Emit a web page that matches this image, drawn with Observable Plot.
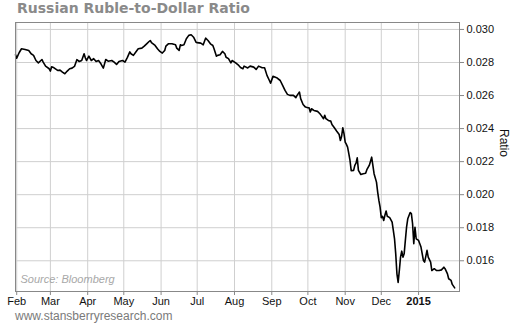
<!DOCTYPE html>
<html>
<head>
<meta charset="utf-8">
<script src="https://cdn.jsdelivr.net/npm/d3@7"></script>
<script src="https://cdn.jsdelivr.net/npm/@observablehq/plot@0.6"></script>
<style>
  html, body { margin: 0; padding: 0; background: #fff; }
  #wrap { position: relative; width: 510px; height: 325px; overflow: hidden; }
  #title { position: absolute; left: 17px; top: 0px; font: bold 14px "DejaVu Sans", Verdana, sans-serif; line-height: 16px; color: #8a8a8a; white-space: nowrap; }
  #chart { position: absolute; left: 0; top: 18px; }
  #footer { position: absolute; left: 15px; top: 309px; font: 12px "Liberation Sans", Arial, sans-serif; color: #7a7a7a; white-space: nowrap; }
</style>
</head>
<body>
<div id="wrap">
  <div id="title">Russian Ruble-to-Dollar Ratio</div>
  <div id="chart"></div>
  <div id="footer">www.stansberryresearch.com</div>
</div>
<script>
const dates = [
"2014-01-31","2014-02-01","2014-02-03","2014-02-05","2014-02-08","2014-02-11","2014-02-13","2014-02-15","2014-02-17","2014-02-19",
"2014-02-22","2014-02-23","2014-02-25","2014-02-28","2014-03-01","2014-03-02","2014-03-04","2014-03-07","2014-03-09","2014-03-11",
"2014-03-13","2014-03-15","2014-03-17","2014-03-19","2014-03-21","2014-03-23","2014-03-25","2014-03-27","2014-03-29","2014-03-30",
"2014-03-31","2014-04-02","2014-04-04","2014-04-06","2014-04-08","2014-04-10","2014-04-12","2014-04-14","2014-04-16","2014-04-18",
"2014-04-21","2014-04-23","2014-04-25","2014-04-27","2014-04-30","2014-05-02","2014-05-04","2014-05-06","2014-05-07","2014-05-09",
"2014-05-11","2014-05-13","2014-05-16","2014-05-18","2014-05-20","2014-05-22","2014-05-23","2014-05-24","2014-05-27","2014-05-29",
"2014-05-31","2014-06-02","2014-06-04","2014-06-05","2014-06-07","2014-06-10","2014-06-13","2014-06-14","2014-06-16","2014-06-17",
"2014-06-18","2014-06-20","2014-06-22","2014-06-24","2014-06-26","2014-06-28","2014-06-30","2014-07-01","2014-07-04","2014-07-06",
"2014-07-08","2014-07-10","2014-07-12","2014-07-14","2014-07-15","2014-07-17","2014-07-18","2014-07-20","2014-07-22","2014-07-24",
"2014-07-25","2014-07-27","2014-07-29","2014-07-30","2014-08-02","2014-08-04","2014-08-06","2014-08-08","2014-08-09","2014-08-12",
"2014-08-14","2014-08-17","2014-08-19","2014-08-21","2014-08-24","2014-08-26","2014-08-28","2014-08-30","2014-08-31","2014-09-02",
"2014-09-05","2014-09-08","2014-09-10","2014-09-12","2014-09-14","2014-09-16","2014-09-19","2014-09-21","2014-09-22","2014-09-24",
"2014-09-25","2014-09-27","2014-09-29","2014-10-01","2014-10-02","2014-10-03","2014-10-04","2014-10-06","2014-10-09","2014-10-11",
"2014-10-12","2014-10-14","2014-10-15","2014-10-16","2014-10-18","2014-10-20","2014-10-21","2014-10-23","2014-10-25","2014-10-27",
"2014-10-28","2014-10-29","2014-10-30","2014-10-31","2014-11-01","2014-11-02","2014-11-03","2014-11-04","2014-11-05","2014-11-06",
"2014-11-08","2014-11-09","2014-11-10","2014-11-11","2014-11-12","2014-11-14","2014-11-16","2014-11-18","2014-11-19","2014-11-21",
"2014-11-22","2014-11-23","2014-11-24","2014-11-25","2014-11-27","2014-11-28","2014-11-29","2014-11-30","2014-12-01","2014-12-02",
"2014-12-03","2014-12-04","2014-12-05","2014-12-06","2014-12-08","2014-12-10","2014-12-11","2014-12-12","2014-12-13","2014-12-14",
"2014-12-15","2014-12-16","2014-12-17","2014-12-18","2014-12-19","2014-12-20","2014-12-21","2014-12-22","2014-12-23","2014-12-25",
"2014-12-26","2014-12-27","2014-12-28","2014-12-29","2014-12-30","2015-01-01","2015-01-03","2015-01-05","2015-01-06","2015-01-07",
"2015-01-08","2015-01-09","2015-01-11","2015-01-12","2015-01-14","2015-01-16","2015-01-18","2015-01-20","2015-01-22","2015-01-23",
"2015-01-25","2015-01-26","2015-01-28","2015-01-29","2015-01-31"
];
const ratio = [
0.02847,0.02826,0.02859,0.02883,0.02879,0.02873,0.02853,0.02843,0.02812,0.02798,
0.02818,0.02802,0.02778,0.02762,0.02748,0.02774,0.02768,0.02752,0.02754,0.02742,
0.02732,0.02748,0.02762,0.02766,0.02776,0.02817,0.02806,0.02812,0.02853,0.02829,
0.02812,0.02838,0.02812,0.02823,0.02806,0.02812,0.02792,0.02766,0.02818,0.02808,
0.02812,0.02802,0.02788,0.02806,0.02812,0.02802,0.02831,0.02864,0.02853,0.02843,
0.02863,0.02883,0.02887,0.02899,0.02913,0.02927,0.02933,0.02920,0.02903,0.02883,
0.02867,0.02857,0.02873,0.02899,0.02913,0.02913,0.02907,0.02887,0.02873,0.02907,
0.02903,0.02907,0.02944,0.02964,0.02968,0.02953,0.02923,0.02920,0.02917,0.02907,
0.02947,0.02933,0.02913,0.02903,0.02883,0.02838,0.02843,0.02847,0.02867,0.02853,
0.02832,0.02823,0.02798,0.02812,0.02798,0.02786,0.02770,0.02762,0.02778,0.02767,
0.02778,0.02772,0.02758,0.02778,0.02768,0.02768,0.02722,0.02691,0.02675,0.02716,
0.02708,0.02691,0.02661,0.02631,0.02607,0.02601,0.02601,0.02587,0.02601,0.02621,
0.02581,0.02546,0.02530,0.02526,0.02526,0.02500,0.02520,0.02510,0.02504,0.02490,
0.02480,0.02460,0.02480,0.02460,0.02449,0.02445,0.02425,0.02405,0.02384,0.02364,
0.02328,0.02352,0.02405,0.02369,0.02318,0.02304,0.02288,0.02248,0.02207,0.02145,
0.02147,0.02177,0.02191,0.02223,0.02147,0.02122,0.02127,0.02130,0.02151,0.02177,
0.02201,0.02227,0.02177,0.02127,0.02076,0.02016,0.01965,0.01925,0.01861,0.01869,
0.01844,0.01875,0.01901,0.01869,0.01861,0.01834,0.01784,0.01733,0.01642,0.01521,
0.01469,0.01541,0.01622,0.01658,0.01622,0.01642,0.01723,0.01803,0.01854,0.01892,
0.01885,0.01824,0.01703,0.01803,0.01733,0.01723,0.01683,0.01602,0.01592,0.01627,
0.01663,0.01622,0.01592,0.01541,0.01552,0.01541,0.01541,0.01545,0.01561,0.01552,
0.01521,0.01491,0.01481,0.01457,0.01436
];
const monthTicks = ["2014-02-01","2014-03-01","2014-04-01","2014-05-01","2014-06-01","2014-07-01","2014-08-01","2014-09-01","2014-10-01","2014-11-01","2014-12-01","2015-01-01"];
const monthLabels = ["Feb","Mar","Apr","May","Jun","Jul","Aug","Sep","Oct","Nov","Dec","2015"];
const yTicks = [0.016, 0.018, 0.020, 0.022, 0.024, 0.026, 0.028, 0.030];
const xDomain = ["2014-01-31", "2015-02-04"];
const yDomain = [0.01414, 0.03042];
const sourceNote = "Source: Bloomberg";
const yLabel = "Ratio";

const data = dates.map((d, i) => ({date: new Date(d), value: ratio[i]}));
const tickDates = monthTicks.map(d => new Date(d));
const labelByTime = new Map(tickDates.map((d, i) => [+d, monthLabels[i]]));

const chart = Plot.plot({
  width: 510,
  height: 290,
  marginTop: 4,
  marginBottom: 17,
  marginLeft: 15,
  marginRight: 51,
  style: {fontFamily: "'Liberation Sans', Arial, sans-serif", fontSize: "11px", background: "white", color: "#111"},
  x: {type: "utc", domain: xDomain.map(d => new Date(d))},
  y: {domain: yDomain},
  marks: [
    Plot.gridX(tickDates, {stroke: "#cfcfcf", strokeOpacity: 1, strokeWidth: 1}),
    Plot.gridY(yTicks, {stroke: "#cfcfcf", strokeOpacity: 1, strokeWidth: 1}),
    Plot.axisX(tickDates, {anchor: "bottom", tickSize: 4, tickPadding: 2, stroke: "#888", fill: "#111", fontSize: 11, label: null, tickFormat: d => labelByTime.get(+d)}),
    Plot.axisY(yTicks, {anchor: "right", tickSize: 4, tickPadding: 3, stroke: "#888", fill: "#111", fontSize: 11, label: null, tickFormat: d3.format(".3f")}),
    Plot.text([sourceNote], {frameAnchor: "bottom-left", dx: 5, dy: -9, textAnchor: "start", fontStyle: "italic", fill: "#a8a8a8", fontSize: 11}),
    Plot.text([yLabel], {frameAnchor: "right", dx: 44, rotate: 90, fill: "#111", fontSize: 12}),
    Plot.line(data, {x: "date", y: "value", stroke: "black", strokeWidth: 1.6, strokeLinejoin: "round"}),
    Plot.frame({stroke: "#888", strokeWidth: 1})
  ]
});
chart.querySelectorAll("text").forEach(t => { if (t.textContent === "2015") t.setAttribute("font-weight", "bold"); });
document.getElementById("chart").appendChild(chart);
</script>
</body>
</html>
